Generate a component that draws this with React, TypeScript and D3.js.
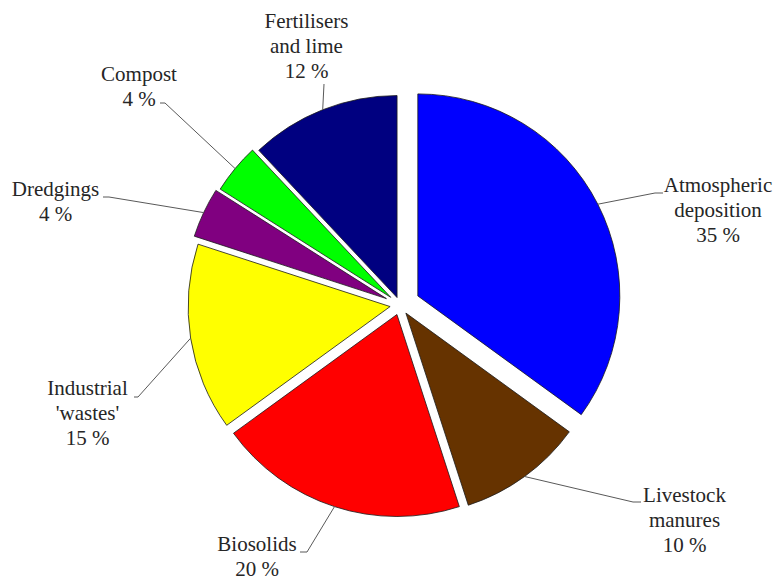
import React from 'react';
import * as d3 from 'd3';

// ---- data ----
const categories = [
  'Atmospheric deposition',
  'Livestock manures',
  'Biosolids',
  "Industrial 'wastes'",
  'Dredgings',
  'Compost',
  'Fertilisers and lime',
];
const labelLines = [
  ['Atmospheric', 'deposition'],
  ['Livestock', 'manures'],
  ['Biosolids'],
  ['Industrial', "'wastes'"],
  ['Dredgings'],
  ['Compost'],
  ['Fertilisers', 'and lime'],
];
const values = [35, 10, 20, 15, 4, 4, 12];
const colors = ['#0000FF', '#663300', '#FF0000', '#FFFF00', '#800080', '#00FF00', '#000080'];

// ---- layout / style ----
const W = 775;
const H = 576;
const CX = 400;
const CY = 305;
const R = 202;
const explode = [20, 10, 10, 10, 15, 12, 8];
// label text centre x, first baseline y, leader elbow, leader end
const labelLayout = [
  { x: 718, y: 192, ex: 655, ey: 193, tx: 663, ty: 193 },
  { x: 684.5, y: 502, ex: 633, ey: 502, tx: 641, ty: 502 },
  { x: 257, y: 551, ex: 307, ey: 552, tx: 300, ty: 552 },
  { x: 87.5, y: 395, ex: 138, ey: 397, tx: 134, ty: 397 },
  { x: 55.5, y: 196, ex: 109, ey: 197, tx: 103, ty: 197 },
  { x: 139, y: 81, ex: 165, ey: 103, tx: 160, ty: 103 },
  { x: 306.5, y: 28, ex: 324, ey: 84, tx: 324, ty: 84 },
];
const LINE_H = 25;
const FONT = 'Liberation Serif';

export default function App() {
  const total = d3.sum(values);
  const pie = d3
    .pie<number>()
    .sort(null)
    .value((d) => d)
    .startAngle(0)
    .endAngle(2 * Math.PI);
  const arcs = pie(values);
  const arcGen = d3.arc<d3.PieArcDatum<number>>().innerRadius(0).outerRadius(R);

  return (
    <svg
      width={W}
      height={H}
      fontFamily={FONT}
      style={{ position: 'absolute', left: 0, top: 0, background: '#fff', fontFamily: FONT }}
    >
      <rect width={W} height={H} fill="#fff" />
      {arcs.map((a, i) => {
        const mid = (a.startAngle + a.endAngle) / 2;
        const ox = CX + Math.sin(mid) * explode[i];
        const oy = CY - Math.cos(mid) * explode[i];
        const ax = ox + Math.sin(mid) * R;
        const ay = oy - Math.cos(mid) * R;
        const L = labelLayout[i];
        const pct = Math.round((values[i] / total) * 100);
        const lines = [...labelLines[i], `${pct} %`];
        return (
          <g key={categories[i]}>
            <path
              d={arcGen(a) || ''}
              transform={`translate(${ox},${oy})`}
              fill={colors[i]}
              stroke="#1a1a1a"
              strokeWidth={0.8}
              strokeLinejoin="round"
            />
            <polyline
              points={`${ax},${ay} ${L.ex},${L.ey} ${L.tx},${L.ty}`}
              fill="none"
              stroke="#595959"
              strokeWidth={1}
            />
            {lines.map((t, j) => (
              <text
                key={j}
                x={L.x}
                y={L.y + j * LINE_H}
                textAnchor="middle"
                fill="#262626"
                fontFamily={FONT}
                style={{ fontFamily: FONT, fontSize: '21px' }}
              >
                {t}
              </text>
            ))}
          </g>
        );
      })}
    </svg>
  );
}
